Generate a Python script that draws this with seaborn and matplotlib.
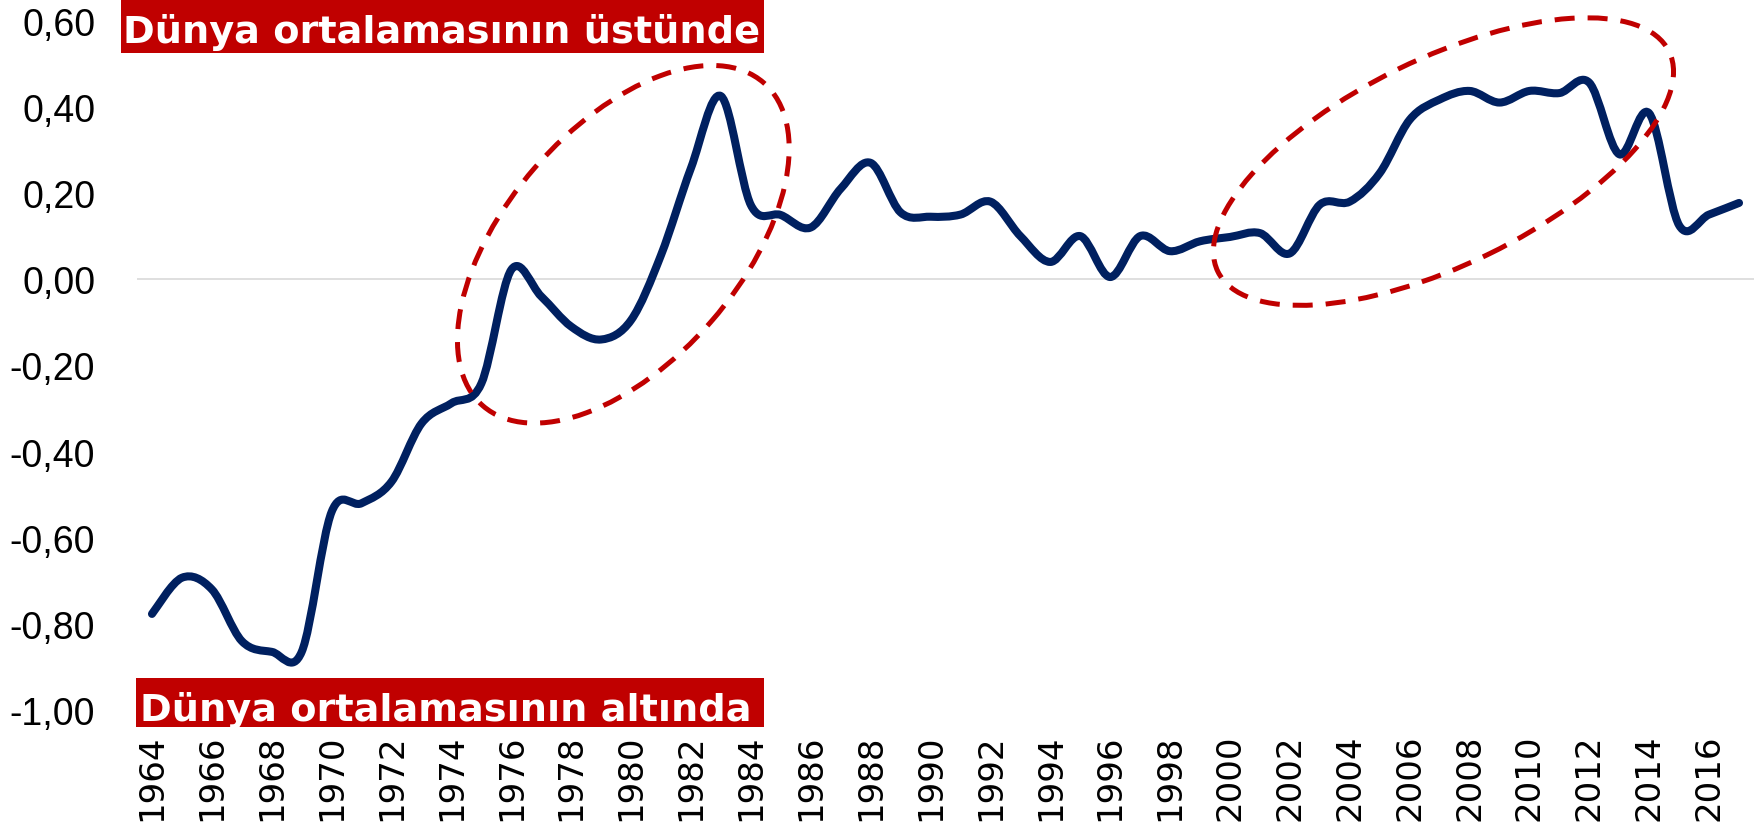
# Dünya ortalamasına göre fark: 1964-2017
import numpy as np
import pandas as pd
import matplotlib
matplotlib.use("Agg")
import matplotlib.pyplot as plt
import seaborn as sns
from matplotlib.path import Path
from matplotlib.patches import PathPatch, Ellipse, Rectangle
from matplotlib.transforms import IdentityTransform

# data
years = list(range(1964, 2018))
values = [-0.777, -0.693, -0.72, -0.84, -0.865, -0.865, -0.54, -0.52,
          -0.47, -0.335, -0.288, -0.242, 0.022, -0.04, -0.11, -0.14,
          -0.095, 0.056, 0.258, 0.425, 0.172, 0.149, 0.12, 0.21,
          0.27, 0.155, 0.145, 0.15, 0.18, 0.10, 0.04, 0.10,
          0.005, 0.10, 0.065, 0.088, 0.098, 0.107, 0.06, 0.173,
          0.18, 0.246, 0.37, 0.417, 0.437, 0.41, 0.437, 0.432,
          0.456, 0.29, 0.385, 0.125, 0.15, 0.177]
tick_years = years[::2]
y_ticks = [-1.0, -0.8, -0.6, -0.4, -0.2, 0.0, 0.2, 0.4, 0.6]
label_above = "Dünya ortalamasının üstünde"
label_below = "Dünya ortalamasının altında"

NAVY = "#002060"
RED = "#C00000"
W, H = 1754, 829

df = pd.DataFrame({"year": years, "value": values})

sns.set_style("white")
plt.rcParams["font.family"] = ["DejaVu Sans"]

fig = plt.figure(figsize=(W / 100, H / 100), dpi=100)
ax = fig.add_axes([137 / W, 1 - 711 / H, 1 - 137 / W, (711 - 21.7) / H])

# seaborn sets up the axes from the data; the visible stroke is
# an Excel-like smoothed bezier through the same points
sns.lineplot(data=df, x="year", y="value", ax=ax, lw=0)


def smooth_path(x, y):
    pts = np.column_stack([x, y]).astype(float)
    n = len(pts)
    verts = [pts[0]]
    codes = [Path.MOVETO]
    for i in range(n - 1):
        p0 = pts[max(i - 1, 0)]
        p1 = pts[i]
        p2 = pts[i + 1]
        p3 = pts[min(i + 2, n - 1)]
        verts += [p1 + (p2 - p0) / 6, p2 - (p3 - p1) / 6, p2]
        codes += [Path.CURVE4] * 3
    return Path(verts, codes)


ax.axhline(0, color="#D9D9D9", lw=1.2, zorder=1)
ax.add_patch(PathPatch(smooth_path(df["year"], df["value"]), fill=False,
                       edgecolor=NAVY, lw=5.8, capstyle="round",
                       joinstyle="round", zorder=3))

ax.set_xlim(1963.5, 2017.5)
ax.set_ylim(-1.0, 0.6)
ax.set_xlabel("")
ax.set_ylabel("")
ax.grid(False)
sns.despine(ax=ax, left=True, bottom=True)

ax.set_xticks(tick_years)
ax.set_xticklabels([str(y) for y in tick_years])
ax.tick_params(axis="x", length=0, pad=17, labelsize=24.5,
               labelrotation=90, labelcolor="black")
ax.set_yticks(y_ticks)
ax.set_yticklabels([f"{v:.2f}".replace(".", ",") for v in y_ticks])
ax.tick_params(axis="y", length=0, pad=30, labelsize=27, labelcolor="black")
for lbl in ax.get_yticklabels():
    lbl.set_fontfamily(["Liberation Sans", "DejaVu Sans"])

# dashed ellipses: centre in data units, size in pixels, angle in degrees
ellipses = [((1979.74, 0.081), 428, 234, 49),
            ((2007.13, 0.273), 502, 206, 26)]
for (cx, cy), w, h, ang in ellipses:
    px, py = ax.transData.transform((cx, cy))
    ax.add_patch(Ellipse((px, py), w, h, angle=ang, fill=False,
                         edgecolor=RED, lw=3.6, linestyle=(0, (4, 2.6)),
                         transform=IdentityTransform(), clip_on=False,
                         zorder=4))

# red label boxes (pixel positions, origin bottom-left)
fig.add_artist(Rectangle((121, H - 54), 643, 54, facecolor=RED,
                         edgecolor="none", transform=IdentityTransform()))
fig.add_artist(Rectangle((136, H - 728), 628, 49, facecolor=RED,
                         edgecolor="none", transform=IdentityTransform()))
fig.text(123 / W, (H - 43) / H, label_above, color="white", fontsize=27.5,
         fontweight="bold", va="baseline", ha="left")
fig.text(140 / W, (H - 721) / H, label_below, color="white", fontsize=27.5,
         fontweight="bold", va="baseline", ha="left")

fig.savefig("out.png", dpi=100)
